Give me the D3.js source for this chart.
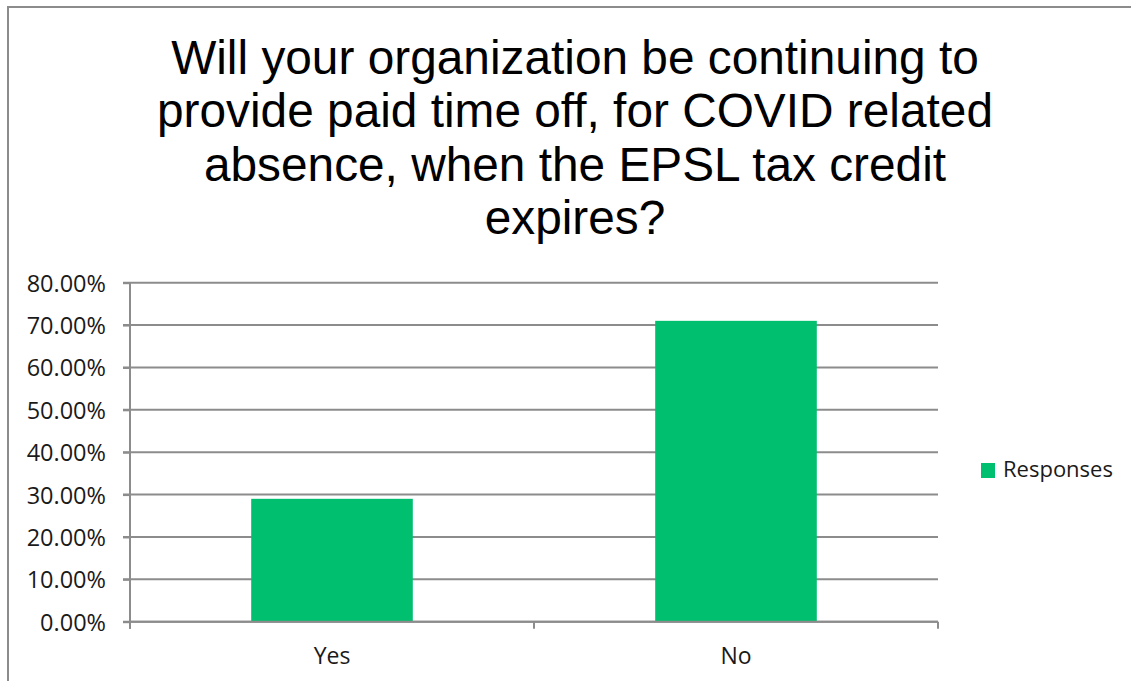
<!DOCTYPE html>
<html>
<head>
    <meta charset="utf-8">
    <title>EPSL bar</title>
    <style>
        body { margin: 0; background: #fff; }
        svg { display: block; }
        .tick-label { font-family: "Open Sans", sans-serif; fill: #1a1a1a; }
        .title { font-family: "Liberation Sans", Arial, sans-serif; fill: #000; }
    </style>
</head>
<body>
    <svg width="1131" height="681"></svg>

    <script src="https://cdnjs.cloudflare.com/ajax/libs/d3/7.8.5/d3.min.js"></script>
    <script>

    var categories = ['Yes', 'No'];
    var responses = [0.29, 0.71];
    var yTicks = [0, 0.1, 0.2, 0.3, 0.4, 0.5, 0.6, 0.7, 0.8];
    var titleLines = [
        'Will your organization be continuing to',
        'provide paid time off, for COVID related',
        'absence, when the EPSL tax credit',
        'expires?'
    ];
    var seriesName = 'Responses';

    var green = '#00bf6f';
    var grid = '#8c8c8c';

    var svg = d3.select('svg');

    svg.append('rect').attr('width', 1131).attr('height', 681).attr('fill', '#fff');

    // outer chart frame (right/bottom edges fall off the picture)
    svg.append('rect')
        .attr('x', 8).attr('y', 7)
        .attr('width', 1140).attr('height', 700)
        .attr('fill', 'none')
        .attr('stroke', grid)
        .attr('stroke-width', 2);

    // title
    svg.append('text').attr('class', 'title')
        .attr('text-anchor', 'middle')
        .attr('font-size', 47.8)
        .selectAll('tspan').data(titleLines).enter().append('tspan')
        .attr('x', 575)
        .attr('y', function(d, i) { return 73.5 + i * 53.5; })
        .text(function(d) { return d; });

    var pLeft = 130, pRight = 938, pTop = 282.7, pBottom = 621.7;

    var x = d3.scaleBand().domain(categories).range([pLeft, pRight]).padding(0);
    var y = d3.scaleLinear().domain([0, 0.8]).range([pBottom, pTop]);

    // gridlines
    svg.append('g').selectAll('line').data(yTicks).enter().append('line')
        .attr('x1', pLeft - 7).attr('x2', pRight)
        .attr('y1', function(d) { return y(d); })
        .attr('y2', function(d) { return y(d); })
        .attr('stroke', grid).attr('stroke-width', 2);

    // bars
    var barW = x.bandwidth() * 0.4;
    svg.append('g').selectAll('rect').data(responses).enter().append('rect')
        .attr('x', function(d, i) { return x(categories[i]) + (x.bandwidth() - barW) / 2; })
        .attr('width', barW)
        .attr('y', function(d) { return y(d); })
        .attr('height', function(d) { return y(0) - y(d); })
        .attr('fill', green);

    // y axis
    var yAxis = svg.append('g').attr('transform', 'translate(' + pLeft + ',0)')
        .call(d3.axisLeft(y).tickValues(yTicks).tickSize(7).tickFormat(d3.format('.2%')));
    yAxis.select('.domain').remove();
    yAxis.selectAll('.tick line').attr('stroke', grid).attr('stroke-width', 2);
    yAxis.selectAll('.tick text').attr('class', 'tick-label')
        .attr('font-size', 23.5).attr('x', -24).attr('dy', '0.36em');
    svg.append('line')
        .attr('x1', pLeft).attr('x2', pLeft)
        .attr('y1', pTop).attr('y2', pBottom + 7)
        .attr('stroke', grid).attr('stroke-width', 2);

    // x axis
    var xAxis = svg.append('g').attr('transform', 'translate(0,' + pBottom + ')');
    xAxis.append('line').attr('x1', pLeft).attr('x2', pRight)
        .attr('stroke', grid).attr('stroke-width', 2);
    xAxis.selectAll('line.tk').data([pLeft, pLeft + x.step(), pRight]).enter().append('line')
        .attr('class', 'tk')
        .attr('x1', function(d) { return d; }).attr('x2', function(d) { return d; })
        .attr('y1', 0).attr('y2', 7)
        .attr('stroke', grid).attr('stroke-width', 2);
    xAxis.selectAll('text').data(categories).enter().append('text')
        .attr('class', 'tick-label')
        .attr('font-size', 23)
        .attr('text-anchor', 'middle')
        .attr('x', function(d) { return x(d) + x.bandwidth() / 2; })
        .attr('y', 42)
        .text(function(d) { return d; });

    // legend
    var lg = svg.append('g').attr('transform', 'translate(981,463)');
    lg.append('rect').attr('width', 14).attr('height', 15).attr('fill', green);
    lg.append('text').attr('class', 'tick-label')
        .attr('font-size', 22)
        .attr('x', 22).attr('y', 14)
        .text(seriesName);

    </script>
</body>
</html>
